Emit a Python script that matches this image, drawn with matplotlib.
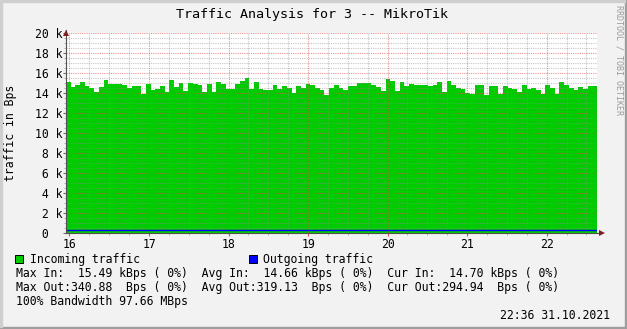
import numpy as np
import matplotlib
matplotlib.use("Agg")
import matplotlib.pyplot as plt
from matplotlib.patches import Rectangle
from matplotlib.ticker import MultipleLocator

# incoming traffic, kBps, one value per sample
in_kbps = [
    15.1, 14.6, 14.8, 15.1, 14.7, 14.5, 14.1, 14.6, 15.3, 14.9,
    14.9, 14.9, 14.8, 14.5, 14.7, 14.7, 13.9, 14.9, 14.3, 14.4,
    14.7, 14.1, 15.3, 14.6, 15.0, 14.2, 15.0, 14.9, 14.8, 14.1,
    14.9, 14.1, 15.1, 14.9, 14.4, 14.4, 14.9, 15.2, 15.49, 14.4,
    15.1, 14.4, 14.3, 14.3, 14.8, 14.4, 14.7, 14.5, 14.0, 14.7,
    14.5, 14.9, 14.8, 14.5, 14.3, 13.8, 14.5, 14.8, 14.5, 14.3,
    14.7, 14.7, 15.0, 15.0, 15.0, 14.8, 14.6, 14.2, 15.4, 15.2,
    14.2, 15.1, 14.7, 14.9, 14.8, 14.8, 14.8, 14.7, 14.8, 15.1,
    14.1, 15.2, 14.8, 14.5, 14.4, 14.0, 13.9, 14.8, 14.8, 13.8,
    14.7, 14.7, 13.9, 14.7, 14.5, 14.4, 14.1, 14.8, 14.4, 14.5,
    14.3, 13.9, 14.8, 14.5, 13.9, 15.1, 14.8, 14.5, 14.3, 14.6,
    14.4, 14.7, 14.70,
]
# outgoing traffic, Bps (flat line near 300)
out_bps = [325, 318, 330, 312, 322, 340, 315, 320, 310, 328, 318, 322, 305, 295]

t_start = 15.956   # hours
t_end = 22.633
hour_ticks = [16, 17, 18, 19, 20, 21, 22]
hour_labels = ["16", "17", "18", "19", "20", "21", "22"]
y_ticks = [0, 2000, 4000, 6000, 8000, 10000, 12000, 14000, 16000, 18000, 20000]
y_labels = [" 0", " 2 k", " 4 k", " 6 k", " 8 k", "10 k", "12 k", "14 k", "16 k", "18 k", "20 k"]

title = "Traffic Analysis for 3 -- MikroTik"
stats = [
    "Max In:  15.49 kBps ( 0%)  Avg In:  14.66 kBps ( 0%)  Cur In:  14.70 kBps ( 0%)",
    "Max Out:340.88  Bps ( 0%)  Avg Out:319.13  Bps ( 0%)  Cur Out:294.94  Bps ( 0%)",
    "100% Bandwidth 97.66 MBps",
]
stamp = "22:36 31.10.2021"

W, H = 627, 329
mono = "DejaVu Sans Mono"
plt.rcParams["font.family"] = mono


def fx(x):
    return x / W


def fy(y):
    return 1 - y / H


fig = plt.figure(figsize=(W / 100, H / 100), dpi=100, facecolor="#F2F2F2")

# 3d border
fig.patches.append(Rectangle((0, 0), 1, 2 / H, transform=fig.transFigure, color="#9E9E9E", zorder=0))
fig.patches.append(Rectangle((1 - 2 / W, 0), 2 / W, 1, transform=fig.transFigure, color="#9E9E9E", zorder=0))
fig.patches.append(Rectangle((0, 1 - 2 / H), 1 - 2 / W, 2 / H, transform=fig.transFigure, color="#CFCFCF", zorder=0))
fig.patches.append(Rectangle((0, 2 / H), 2 / W, 1 - 4 / H, transform=fig.transFigure, color="#CFCFCF", zorder=0))

ax = fig.add_axes([fx(66), fy(233), 531 / W, 200 / H])
ax.set_facecolor("white")

vals = np.array(in_kbps) * 1000
edges = np.linspace(t_start, t_end, len(vals) + 1)
ax.fill_between(edges, 0, np.append(vals, vals[-1]), step="post", color="#00CC00", lw=0, zorder=1)

out = np.array(out_bps, dtype=float)
oedges = np.linspace(t_start, t_end, len(out) + 1)
ax.step(oedges, np.append(out, out[-1]), where="post", color="#0000FF", lw=1.0, zorder=3)

ax.set_xlim(t_start, t_end)
ax.set_ylim(0, 20000)
ax.set_xticks(hour_ticks, hour_labels)
ax.xaxis.set_minor_locator(MultipleLocator(0.25))
ax.set_yticks(y_ticks, y_labels)
ax.yaxis.set_minor_locator(MultipleLocator(500))

dot = (0, (1, 1))
ax.set_axisbelow(False)
ax.grid(which="major", color="#DE4F4F", alpha=0.6, lw=0.8, ls=dot)
ax.grid(which="minor", color="#8F8F8F", alpha=0.5, lw=0.8, ls=dot)

for s in ["top", "right"]:
    ax.spines[s].set_visible(False)
for s in ["left", "bottom"]:
    ax.spines[s].set_color("#505050")
    ax.spines[s].set_linewidth(0.8)
    ax.spines[s].set_zorder(4)

ax.tick_params(axis="x", which="major", length=2.2, color="#DE4F4F", labelsize=8.3, pad=1.2)
ax.tick_params(axis="x", which="minor", length=1.4, color="#AAAAAA")
ax.tick_params(axis="y", which="major", length=2.2, color="#707070", labelsize=8.3, pad=20.1)
ax.tick_params(axis="y", which="minor", length=1.4, color="#AAAAAA")
for lab in ax.get_yticklabels():
    lab.set_horizontalalignment("left")

# axis arrows
ax.plot([0], [1.0], marker="^", ms=5, color="#801F1F", transform=ax.transAxes,
        clip_on=False, zorder=5, markeredgewidth=0)
ax.plot([0, 0], [1.0, 1.015], color="#505050", lw=0.8, transform=ax.transAxes, clip_on=False, zorder=4)
ax.plot([1.0, 1.007], [0, 0], color="#505050", lw=0.8, transform=ax.transAxes, clip_on=False, zorder=4)
ax.plot([1.009], [0], marker=">", ms=5, color="#801F1F", transform=ax.transAxes,
        clip_on=False, zorder=5, markeredgewidth=0)

fig.text(fx(312), fy(18.3), title, ha="center", va="baseline", fontsize=9.6)
fig.text(fx(11), fy(133), "traffic in Bps", rotation=90, ha="center", va="center", fontsize=8.3)
fig.text(fx(618.5), fy(60), "RRDTOOL / TOBI OETIKER", rotation=270, ha="center", va="center",
         fontsize=6, color="#9A9A9A")

# legend
fig.patches.append(Rectangle((fx(15.5), fy(263.3)), 8 / W, 8 / H, transform=fig.transFigure,
                             facecolor="#00CC00", edgecolor="black", lw=0.7))
fig.text(fx(30.5), fy(263.5), "Incoming traffic", va="baseline", fontsize=8.3)
fig.patches.append(Rectangle((fx(248.5), fy(263.3)), 8 / W, 8 / H, transform=fig.transFigure,
                             facecolor="#0000FF", edgecolor="black", lw=0.7))
fig.text(fx(263.3), fy(263.5), "Outgoing traffic", va="baseline", fontsize=8.3)
for i, line in enumerate(stats):
    fig.text(fx(16), fy(277.5 + 13.9 * i), line, va="baseline", fontsize=8.3)
fig.text(fx(610), fy(319.3), stamp, ha="right", va="baseline", fontsize=8.3)

fig.savefig("out.png", dpi=100, facecolor=fig.get_facecolor())
